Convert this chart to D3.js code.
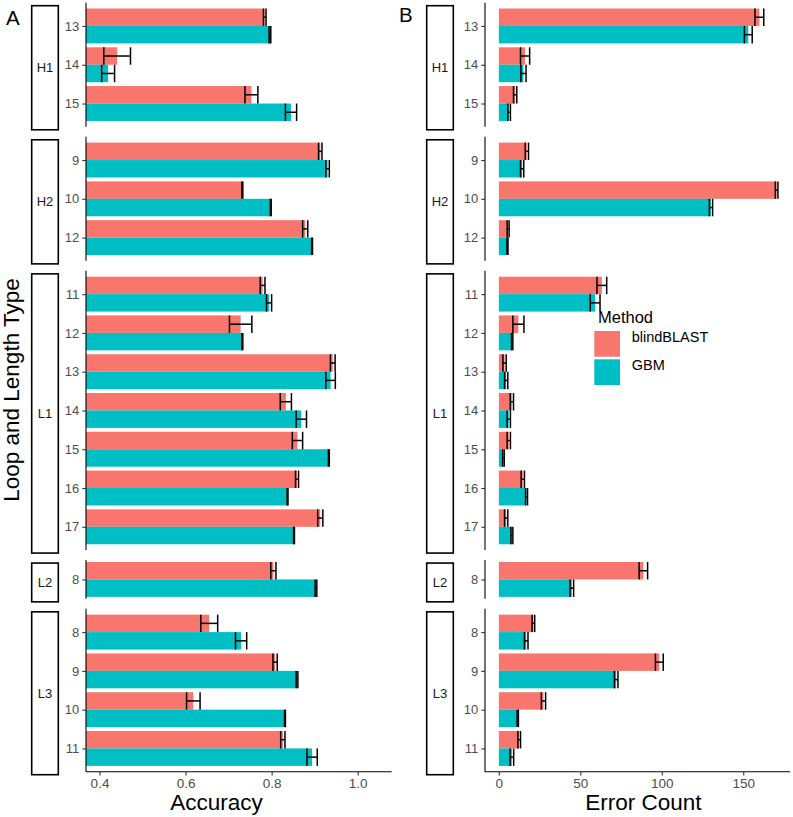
<!DOCTYPE html>
<html><head><meta charset="utf-8">
<script src="https://cdn.jsdelivr.net/npm/d3@7"></script>
<style>body{margin:0;background:#fff}svg{display:block;font-family:"Liberation Sans",Arial,Helvetica,sans-serif}</style>
</head><body><svg id="c" width="793" height="817"></svg>
<script>
const groups = ["H1","H2","L1","L2","L3"];
const groupLengths = [[13,14,15],[9,10,12],[11,12,13,14,15,16,17],[8],[8,9,10,11]];
const methods = ["blindBLAST","GBM"];
const colors = ["#F8766D","#00BFC4"];
// rows in order: H1 13,14,15 | H2 9,10,12 | L1 11..17 | L2 8 | L3 8..11
const accBlind    = [0.784,0.441,0.753, 0.913,0.732,0.878, 0.779,0.728,0.942,0.833,0.860,0.859,0.913, 0.804, 0.655,0.808,0.618,0.826];
const accBlindErr = [0.003,0.031,0.015, 0.004,0.001,0.006, 0.0055,0.026,0.0055,0.013,0.012,0.0035,0.006, 0.006, 0.0196,0.005,0.0157,0.005];
const accGBM      = [0.796,0.420,0.845, 0.930,0.798,0.894, 0.794,0.732,0.937,0.869,0.933,0.837,0.852, 0.903, 0.729,0.859,0.831,0.894];
const accGBMErr   = [0.002,0.015,0.013, 0.004,0.001,0.001, 0.006,0.001,0.011,0.012,0.001,0.001,0.001, 0.002, 0.013,0.002,0.001,0.012];
const errBlind    = [159.9,16.1,10.0, 17.2,170.5,5.7, 63.2,12.0,3.5,8.0,6.1,14.7,4.5, 88.7, 21.2,98.5,27.4,12.5];
const errBlindErr = [2.7,2.8,1.0, 1.0,0.8,0.6, 3.0,3.4,1.0,1.0,1.0,1.0,1.0, 2.6, 0.8,2.4,1.3,0.8];
const errGBM      = [153.1,15.1,6.3, 14.3,130.2,5.3, 59.1,8.2,4.5,6.1,2.8,17.0,8.0, 44.8, 16.8,72.0,11.6,8.0];
const errGBMErr   = [2.4,1.6,0.8, 1.0,1.0,0.3, 3.0,0.4,1.0,1.0,0.5,0.6,0.6, 1.1, 1.1,1.1,0.4,1.1];
const accTicks = [0.4,0.6,0.8,1.0];
const errTicks = [0,50,100,150];

const svg = d3.select("#c");
// vertical layout of facet panels
const top0 = 2.7, bottom0 = 771.7, gap = 10;
const weights = groupLengths.map(l => l.length === 1 ? 1 : l.length + 0.2);
const u = (bottom0 - top0 - gap*(groups.length-1)) / d3.sum(weights);
let yy = top0;
const panels = groups.map((g,i) => {
  const h = weights[i]*u;
  const p = {group:g, lengths:groupLengths[i], top:yy, bottom:yy+h};
  p.y = d3.scalePoint().domain(p.lengths).range([p.top,p.bottom]).padding(0.6);
  yy += h + gap;
  return p;
});
const barH = 0.45*u;

// build rows
const rows = [];
groupLengths.forEach((ls,gi) => ls.forEach(l => rows.push({g:gi,len:l})));
rows.forEach((r,i) => {
  r.acc = [{v:accBlind[i],e:accBlindErr[i]},{v:accGBM[i],e:accGBMErr[i]}];
  r.err = [{v:errBlind[i],e:errBlindErr[i]},{v:errGBM[i],e:errGBMErr[i]}];
});

function drawPanelSet(cfg){
  const x = d3.scaleLinear().domain(cfg.domain).range(cfg.range);
  const g = svg.append("g");
  const x0 = x(Math.max(0, cfg.domain[0]));
  panels.forEach((p,pi) => {
    // strip box
    g.append("rect").attr("x",cfg.stripX).attr("y",p.top+3).attr("width",26.6).attr("height",p.bottom-p.top)
      .attr("fill","#fff").attr("stroke","#000").attr("stroke-width",1.6);
    g.append("text").attr("x",cfg.stripX+13.3).attr("y",(p.top+p.bottom)/2+3+4.5)
      .attr("text-anchor","middle").attr("font-size",13).attr("fill","#1a1a1a").text(p.group);
    // bars
    rows.filter(r => r.g===pi).forEach(r => {
      const yc = p.y(r.len);
      r[cfg.key].forEach((d,mi) => {
        const yt = yc - barH + mi*barH;
        g.append("rect").attr("x",x0).attr("y",yt).attr("width",x(d.v)-x0).attr("height",barH).attr("fill",colors[mi]);
      });
      r[cfg.key].forEach((d,mi) => {
        const yt = yc - barH + mi*barH, ym = yt + barH/2;
        const eb = g.append("g").attr("stroke","#000").attr("stroke-width",1.5).attr("fill","none");
        eb.append("line").attr("x1",x(d.v-d.e)).attr("x2",x(d.v+d.e)).attr("y1",ym).attr("y2",ym);
        [d.v-d.e,d.v+d.e].forEach(v => eb.append("line").attr("x1",x(v)).attr("x2",x(v)).attr("y1",yt).attr("y2",yt+barH));
      });
    });
    // y axis
    const ax = g.append("g").attr("transform",`translate(${cfg.range[0]},0)`).call(d3.axisLeft(p.y).tickSize(3.7).tickPadding(3));
    ax.select(".domain").attr("stroke","#000").attr("stroke-width",1.1).attr("d",`M0,${p.top}V${p.bottom}`);
    ax.selectAll(".tick line").attr("stroke","#333").attr("stroke-width",1.1);
    ax.selectAll(".tick text").attr("font-size",13).attr("fill","#4d4d4d").attr("font-family","Liberation Sans, Arial, sans-serif");
  });
  // x axis
  const xa = g.append("g").attr("transform",`translate(0,${bottom0})`)
    .call(d3.axisBottom(x).tickValues(cfg.ticks).tickFormat(cfg.fmt).tickSize(3.7).tickPadding(3));
  xa.select(".domain").attr("stroke","#000").attr("stroke-width",1.1).attr("d",`M${cfg.range[0]},0H${cfg.range[1]}`);
  xa.selectAll(".tick line").attr("stroke","#333").attr("stroke-width",1.1);
  xa.selectAll(".tick text").attr("font-size",13.5).attr("fill","#4d4d4d").attr("font-family","Liberation Sans, Arial, sans-serif");
  svg.append("text").attr("x",cfg.titleX).attr("y",810).attr("text-anchor","middle").attr("font-size",22.5).attr("fill","#000").text(cfg.title);
  svg.append("text").attr("x",cfg.letterX).attr("y",cfg.letterY).attr("font-size",20.5).attr("fill","#000").text(cfg.letter);
}

drawPanelSet({key:"acc", domain:[0.3686,1.079], range:[86,391.7], ticks:accTicks, fmt:d3.format(".1f"),
  stripX:31.7, title:"Accuracy", titleX:216.5, letter:"A", letterX:6, letterY:25});
drawPanelSet({key:"err", domain:[-8.5,178.7], range:[485,790], ticks:errTicks, fmt:d3.format("d"),
  stripX:426.7, title:"Error Count", titleX:643.3, letter:"B", letterX:399, letterY:22});

svg.append("text").attr("transform","translate(18.5,390) rotate(-90)").attr("text-anchor","middle")
  .attr("font-size",22.5).attr("fill","#000").text("Loop and Length Type");

// legend
const leg = svg.append("g");
leg.append("text").attr("x",598).attr("y",323.3).attr("font-size",16.5).attr("fill","#000").text("Method");
methods.forEach((m,i) => {
  leg.append("rect").attr("x",594.3).attr("y",331+i*28.3).attr("width",25.7).attr("height",25.7).attr("fill",colors[i]);
  leg.append("text").attr("x",631.7).attr("y",341.7+i*28.3).attr("font-size",14.5).attr("fill","#000").text(m);
});
</script></body></html>
